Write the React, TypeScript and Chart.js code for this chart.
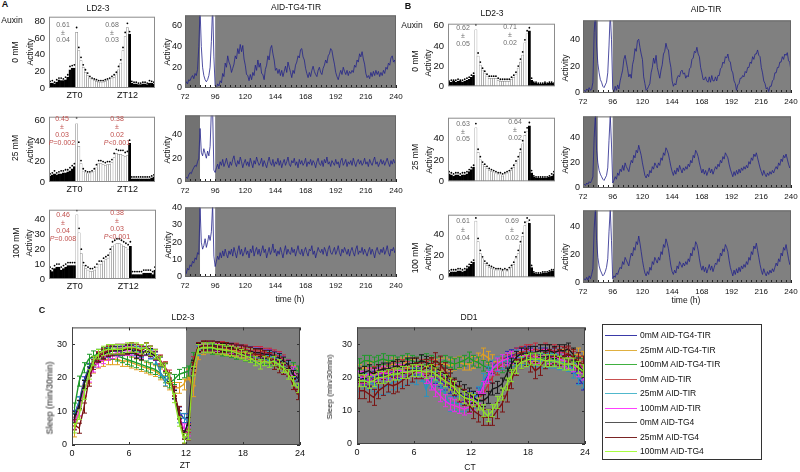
import React, { useEffect, useRef } from "react";
import { Chart, registerables } from "chart.js";

Chart.register(...registerables);

const FONT = "'Liberation Sans', Arial, Helvetica, sans-serif";

// ---------------- LD2-3 histograms: 48 half-hour bins, ZT-6 .. ZT18 ----------------
const barZT = Array.from({ length: 48 }, (_, i) => -6 + i * 0.5);
const barTickBins = [11, 35];
const barTickText = ["ZT0", "ZT12"];

const a0Bars = [6,6,5,7,10,9,9,10,13,22,24,24, 67,45,33,25,19,15,12,10,9,8,7,7, 7,8,9,10,11,13,16,22,30,45,62,73, 65,6,5,5,4,4,5,5,4,6,6,5];
const a0Sem  = [2,3,2,3,2,3,2,3,3,4,3,4, 6,4,4,3,3,3,2,2,2,2,2,2, 2,2,2,2,3,3,3,4,4,4,5,5, 3,2,2,2,2,2,2,2,2,3,2,2];
const a25Bars = [6,7,8,7,8,8,9,9,10,11,13,15, 57,35,18,10,9,8,8,9,10,14,18,18, 17,16,17,17,19,24,28,27,27,26,25,26, 38,3,3,3,3,3,3,3,3,3,4,5];
const a25Sem  = [2,2,3,2,2,3,2,3,2,3,3,3, 6,4,3,3,2,2,2,2,3,3,3,3, 3,3,3,3,3,4,4,4,4,5,4,4, 3,2,2,2,2,2,2,2,2,2,2,2];
const a100Bars = [6,5,7,8,8,6,7,8,9,9,9,9, 43,31,17,9,7,6,5,5,6,8,10,10, 12,13,14,18,22,23,24,24,23,22,21,20, 22,3,3,3,3,3,4,4,4,4,3,6];
const a100Sem  = [2,2,2,2,2,2,2,2,2,2,2,2, 3,3,3,2,2,2,2,2,2,2,2,2, 2,2,2,2,3,3,3,3,3,3,3,3, 3,2,2,2,2,2,2,2,2,2,2,2];
const b0Bars = [4,4,5,4,5,5,4,5,6,7,9,11, 56,30,21,16,13,10,8,8,8,8,6,5, 5,5,5,5,7,9,12,18,24,31,43,52, 55,6,3,3,2,2,2,3,2,3,3,2];
const b0Sem  = [1,2,1,2,2,1,2,2,2,2,2,2, 5,3,3,2,2,2,2,2,2,2,2,2, 2,2,2,2,2,2,2,2,3,3,3,3, 3,2,1,1,1,1,1,1,1,1,1,1];
const b25Bars = [7,6,5,6,6,5,6,6,7,9,11,13, 50,27,20,16,14,12,10,9,8,7,6,6, 5,6,7,8,10,13,17,20,27,35,43,47, 52,8,4,3,3,3,3,3,3,4,5,7];
const b25Sem  = [2,2,2,2,2,2,2,2,2,2,2,2, 4,3,3,2,2,2,2,2,2,2,2,2, 2,2,2,2,2,2,2,3,3,3,3,3, 3,2,1,1,1,1,1,1,1,1,2,2];
const b100Bars = [4,5,5,5,6,6,5,6,8,10,12,14, 52,33,22,17,13,11,9,8,7,6,6,6, 5,6,5,7,9,12,17,22,30,38,48,52, 50,9,4,3,3,3,4,4,4,5,6,6];
const b100Sem  = [2,2,2,2,2,2,2,2,2,2,2,2, 3,3,3,2,2,2,2,2,2,2,2,2, 2,2,2,2,2,2,2,3,3,3,3,3, 3,2,1,1,1,1,1,1,1,1,1,1];

const annA0 = [["0.61", "±", "0.04"], ["0.68", "±", "0.03"]];
const annA25 = [["0.45", "±", "0.03", "P=0.002"], ["0.38", "±", "0.02", "P<0.001"]];
const annA100 = [["0.46", "±", "0.04", "P=0.008"], ["0.38", "±", "0.03", "P<0.001"]];
const annB0 = [["0.62", "±", "0.05"], ["0.71", "±", "0.02"]];
const annB25 = [["0.63", "±", "0.05"], ["0.64", "±", "0.02"]];
const annB100 = [["0.61", "±", "0.04"], ["0.69", "±", "0.02"]];

// ---------------- Actograms: hourly activity, 72 h .. 240 h ----------------
const actHours = Array.from({ length: 169 }, (_, i) => 72 + i);
const actDark = [72, 84];
const actLight = [84, 96];
const actDD = [96, 240];

const actA0 = [
  3,6,4,8,7,10,12,9,14,12,18,40, 75,40,20,12,8,6,8,12,20,45,80,30,
  2,0,4,2,7,5,14,11,24,20,31,25, 22,15,19,23,31,28,38,33,42,35,41,28,
  22,13,12,7,13,8,15,12,22,17,27,20, 24,14,13,8,18,22,31,27,38,41,33,27,
  17,19,14,18,12,17,11,16,21,15,25,20, 15,10,17,14,22,25,31,29,37,38,30,27,
  19,14,10,15,11,17,21,16,13,11,17,20, 15,13,19,22,27,24,31,33,38,36,29,23,
  15,11,8,13,17,13,20,16,13,17,12,16, 14,17,15,22,20,27,25,33,30,35,28,23,
  14,10,12,9,15,11,16,12,17,13,16,11, 15,12,17,14,20,18,24,22,29,31,25,27,20];
const actA25 = [
  2,4,3,6,8,7,10,12,14,13,17,20, 45,25,22,28,24,20,26,22,30,60,60,10,
  8,12,15,11,17,14,19,13,16,20,15,12, 17,14,19,22,16,13,18,15,21,17,12,16,
  19,14,17,13,20,16,12,18,15,21,17,14, 16,20,13,18,15,12,17,21,16,14,19,13,
  17,15,20,14,18,12,16,19,14,17,21,15, 13,18,16,20,14,17,12,19,15,18,14,16,
  20,13,17,15,19,14,18,16,12,17,20,15, 14,18,13,19,16,21,15,17,13,18,16,14,
  19,15,17,12,18,20,14,16,19,13,17,15, 18,14,20,16,13,17,19,15,18,14,16,20,
  15,17,13,19,16,14,18,21,15,17,13,16, 19,15,18,14,17,20,16,13,18,15,19,16,17];
const actA100 = [
  3,2,5,4,7,6,9,8,11,10,14,13, 40,20,16,18,22,17,20,24,21,26,42,12,
  6,9,12,10,14,11,15,12,16,13,11,15, 13,16,12,17,14,11,15,18,13,16,12,14,
  17,13,15,11,16,14,18,12,15,17,13,16, 12,15,18,14,16,11,14,17,13,15,19,14,
  16,12,15,13,17,14,11,15,18,13,16,14, 13,17,14,16,12,15,18,14,13,16,12,15,
  17,14,12,16,15,18,13,15,11,14,17,15, 14,16,13,17,15,12,16,18,14,13,15,17,
  13,15,18,14,12,16,14,17,15,13,16,12, 15,17,14,12,16,18,13,15,14,17,13,16,
  14,12,15,17,13,16,14,11,15,17,14,13, 16,14,17,13,15,18,14,12,16,15,17,14,16];
const actB0 = [
  1,2,1,3,2,4,2,3,8,45,60,35, 22,15,10,8,5,4,6,8,15,35,60,40,
  3,1,5,2,6,3,9,13,17,25,28,23, 18,12,14,11,21,25,33,31,39,40,34,29,
  25,12,7,2,3,5,7,15,19,26,22,28, 19,15,11,17,21,29,31,37,33,32,24,19,
  9,5,7,6,11,13,12,16,17,14,15,11, 13,12,18,19,25,26,31,30,34,29,27,19,
  15,10,10,12,9,8,12,8,13,9,9,12, 9,13,13,18,19,23,22,27,26,29,24,23,
  17,15,9,7,2,6,7,11,11,13,12,16, 15,19,19,23,22,27,25,29,29,32,28,27,
  19,15,9,7,3,4,1,5,5,9,10,15, 15,19,19,23,23,27,25,29,28,30,24,23,16];
const actB25 = [
  2,3,2,4,3,5,4,6,9,40,58,30, 20,14,11,9,7,6,8,10,16,38,58,35,
  4,6,9,7,12,10,15,13,18,14,20,17, 15,13,18,22,20,26,24,30,28,34,30,26,
  20,15,10,8,11,9,14,12,17,15,20,18, 16,20,18,24,22,28,26,32,30,27,22,17,
  13,10,14,11,16,13,18,15,12,16,14,17, 15,19,17,22,20,26,24,30,28,25,20,16,
  12,15,11,14,10,13,16,12,15,11,14,17, 15,19,17,22,20,25,23,28,26,24,19,15,
  12,9,13,10,14,11,15,12,16,14,17,15, 18,16,21,19,24,22,27,25,28,24,20,16,
  13,10,14,11,9,12,10,13,11,14,12,15, 17,15,20,18,23,21,26,24,27,23,19,16,18];
const actB100 = [
  1,3,2,4,2,5,3,6,10,38,52,30, 18,12,9,7,5,6,8,11,17,36,52,30,
  3,5,4,7,6,9,11,10,15,13,18,16, 14,12,17,21,19,25,23,29,27,33,28,22,
  16,11,7,5,8,6,11,9,15,13,18,16, 14,18,16,22,20,27,25,31,28,24,18,12,
  8,6,9,7,12,10,15,13,11,14,12,15, 13,17,15,21,19,25,23,29,27,23,17,12,
  9,12,8,11,7,10,13,9,12,8,11,14, 13,17,15,21,19,24,22,27,25,22,16,11,
  8,5,9,6,10,7,11,8,12,10,13,11, 15,13,18,16,22,20,26,24,28,23,18,13,
  9,6,10,7,5,8,6,9,7,10,8,11, 14,12,17,15,21,19,25,23,27,22,17,13,15];

// ---------------- Panel C: sleep per 30 min ----------------
const sleepX = Array.from({ length: 48 }, (_, i) => 0.25 + i * 0.5);
const seriesNames = ["0mM AID-TG4-TIR", "25mM AID-TG4-TIR", "100mM AID-TG4-TIR", "0mM AID-TIR", "25mM AID-TIR", "100mM AID-TIR", "0mM AID-TG4", "25mM AID-TG4", "100mM AID-TG4"];
const seriesColors = ["#2626b8", "#e0a020", "#1f9a2a", "#c8283c", "#2a92c0", "#e82ee8", "#1a1a1a", "#7a1414", "#8ee02a"];
const legendColors = ["#3a3aa8", "#e0b040", "#40b040", "#c85050", "#50b8cc", "#ff40ff", "#555555", "#7a2424", "#a8ff40"];

const ldBlue = [9,13,19,23,25,26.5,27.5,28,28,28,28.5,28.5,28.5,28,27.5,28,27,26.5,25,23,20,15,10,8, 8,24,28.5,29.5,29.5,29.5,29.5,29,29,29,28.5,28.5,28,28,27.5,27.5,27,27,26.5,26,25,24,21,19];
const ldOrange = [4,10,16,20,23,24.5,25,25.5,25.5,25.5,25,25,24.5,24,23.5,23,22.5,22,21,19,18,17,17,18, 21,16,27,28.5,29,29,28.5,28.5,28.5,28,28,27.5,27.5,27,27,26.5,26.5,26,26,25.5,24.5,23.5,22,21];
const ldGreen = [11,19,23,25.5,26.5,27,27.5,27.5,27,26.5,26,25.5,25,24.5,24,23.5,23,22.5,21.5,20,18.5,19.5,21,21.5, 22,26,28.5,29,29,28.5,28.5,28,28,27.5,27,27,26.5,26.5,26,26,25.5,25.5,25,25,24.5,24,23,22];
const ldRed = [7,12,18,22,25,26.5,27.5,28,28,28.5,28.5,28.5,29,28.5,28,29,28,27,25.5,23.5,21,16,9,3, 5,25,29,29.5,29.5,29.5,29.5,29.5,29,29,29,28.5,28.5,28,28,28,27.5,27.5,27,26.5,25.5,24,21,18];
const ldTeal = [8,13,18,22,24.5,26,27,27.5,28,28,28,28.5,28.5,28,27.5,28,27,25.5,22,19,20,15,8,8, 7,22,28,29,29.5,29.5,29,29,29,28.5,28.5,28,28,27.5,27.5,27,27,26.5,26,25.5,25,23.5,21,18];
const ldMagenta = [6,10,16,20,23,24.5,25.5,26.5,27,27.5,28,28,28,27.5,27,28,27.5,26.5,25,23,20,15,9,5, 4,22,28.5,29,29.5,29.5,29,29,29,28.5,28.5,28,28,28,27.5,27.5,27,27,26.5,26,25,24,22,20];
const ldBlack = [8,12,18,22,25,26,27,27.5,28,28,28,28.5,28.5,27,26.5,28,27.5,26.5,25,23,20,15,9,3, 7,24,29,29.5,29.5,29.5,29.5,29,29,29,28.5,28.5,28,28,27.5,27.5,27,27,26.5,26,25,24,21,20];
const ldMaroon = [6,5,11,19,24,26,27,28,28,28.5,28.5,28.5,29,28.5,28,29,28,27,25,23,20,16,10,2, 3,23,29,29.5,29.5,29.5,29,29,29,28.5,28.5,28,28,27.5,27,27,26.5,26,24,23,22.5,22,18,15];
const ldLime = [5,9,15,21,25,27,28,28.5,28.5,28.5,28.5,29,29,29,28.5,29,28,27,25,23,20,14,7,2, 3,22,28.5,29,29,29,28.5,28.5,28,28,27.5,27,26.5,26,25,24,25,24.5,25,24,23,21,19,17];
const ldSem = [1.3, 1.6, 1.5, 1.3, 1.4, 1.3, 1.2, 1.5, 1.4];

const ddBlue = [20,19.5,19,20,21,20,21,22,21.5,22,22.5,22,22.5,22,21.5,21,20,19,18,17,16,15,14.5,14, 14,15,17,21,23,24.5,25,26,26.5,27,27,27.5,27,27.5,27,27,26.5,27,26.5,26,25,23,20,18];
const ddOrange = [22,23,22.5,23,22,23.5,23,24,23.5,24,24.5,23.5,24,23.5,23,24,23.5,24,24,23.5,24,24.5,24,24, 24.5,25.5,27,26,25,24.5,25,25.5,25.5,26,26,26.5,26,26.5,26,26.5,26,26,26.5,26.5,26,26.5,27,26];
const ddGreen = [24,25,25,24.5,25,25.5,25,25,24.5,25,25.5,25,24.5,25,25.5,25,24.5,24.5,25,24.5,24,24.5,25,26, 25,24.5,23.5,23,22.5,22.5,23,23.5,24,25,25.5,26,25.5,26,25.5,26,26,25.5,25.5,26,25,25,24.5,24];
const ddRed = [21,20,21,21.5,22,21,22,22.5,23,23.5,23,24,24,23.5,23,23.5,22,21,19.5,18,16.5,15,14,13.5, 13,13.5,15,17.5,20,22.5,24,25,26,27,27.5,28,28,28.5,28,28.5,28,28,27.5,27.5,27,26,24.5,23];
const ddTeal = [18,19,18.5,18,17,17,17.5,18.5,19,19.5,20,20.5,20,21,16.5,19,19.5,18,15,12,12.5,12,12,12.5, 13,15,19,21,23,24,24.5,25,25.5,26,26,26,25.5,25.5,25,25,25,25,24.5,24.5,24,22,20,19];
const ddMagenta = [20,20,21,20.5,21,21.5,21,21.5,22,22,21.5,22,21.5,21.5,20,18,16,14.5,13,12,11.5,11,10.5,11, 12,14,17,20,22.5,24,25,25.5,26,26,26.5,26.5,26.5,26,26,26.5,26,26,25.5,25,24.5,23.5,22,21];
const ddBlack = [21,21.5,22,21,22,22.5,22.5,23,23.5,23,24,24,24,25,24.5,24,23,22,21,19.5,18,17,16,15, 14,13,13,14,16.5,17,18,21,24,26,27,27,27.5,27.5,28,28,28,27.5,28,28,28.5,27,24,22];
const ddMaroon = [16,16,15,14,16,17,18,17.5,18,19,20,21,22,22,23,23.5,25,24,22,20,17,15,14,12, 10,9,8,8,8,10,12,15,19,23,25,26,24,22,23,25,26,26.5,26,26.5,27,26,25,24];
const ddLime = [19,19,18.5,19,20,20,20.5,21,21,21.5,21.5,22,22,22,21.5,22,21,20,19,18,17,15,14,13.5, 13,12,10,8.5,10,12.5,15,18,20.5,23,24.5,25,25.5,25.5,25.5,25,25,25,24.5,24,24,24,23,22];
const ddSem = [1.8, 1.8, 1.6, 1.8, 2.2, 1.8, 1.8, 2.4, 1.8];

const ldSeries = [ldBlue, ldOrange, ldGreen, ldRed, ldTeal, ldMagenta, ldBlack, ldMaroon, ldLime];
const ddSeries = [ddBlue, ddOrange, ddGreen, ddRed, ddTeal, ddMagenta, ddBlack, ddMaroon, ddLime];
const ldLightsOff = [12, 24];
const ddDark = [0, 24];

// ---------------- plugin ----------------
type Deco = {
  shade?: { from: number; to: number; color: string }[];
  frame?: string;
  xt?: { from: number; to: number; step: number; len: number; top?: boolean };
  yt?: { from: number; to: number; step: number; len: number; right?: boolean };
  tickColor?: string;
};

function deco(o: Deco) {
  return {
    id: "deco",
    beforeDatasetsDraw(chart: any) {
      const { ctx, chartArea: a } = chart;
      const xs = chart.scales.x;
      ctx.save();
      for (const s of o.shade || []) {
        const x0 = Math.max(a.left, xs.getPixelForValue(s.from));
        const x1 = Math.min(a.right, xs.getPixelForValue(s.to));
        ctx.fillStyle = s.color;
        ctx.fillRect(x0, a.top, x1 - x0, a.bottom - a.top);
      }
      ctx.restore();
    },
    afterDatasetDraw(chart: any, args: any) {
      const ds = chart.data.datasets[args.index];
      if (ds.errs == null) return;
      const { ctx, chartArea: a } = chart;
      const ys = chart.scales.y;
      ctx.save();
      ctx.beginPath();
      ctx.rect(a.left, a.top, a.width, a.height);
      ctx.clip();
      ctx.strokeStyle = ds.borderColor;
      ctx.lineWidth = 1;
      ctx.beginPath();
      args.meta.data.forEach((pt: any, j: number) => {
        const v = ds.data[j].y;
        const t = ys.getPixelForValue(v + ds.errs);
        const b = ys.getPixelForValue(v - ds.errs);
        const x = Math.round(pt.x) + 0.5;
        ctx.moveTo(x, t); ctx.lineTo(x, b);
        ctx.moveTo(x - 2.5, t); ctx.lineTo(x + 2.5, t);
        ctx.moveTo(x - 2.5, b); ctx.lineTo(x + 2.5, b);
      });
      ctx.stroke();
      ctx.restore();
    },
    afterDatasetsDraw(chart: any) {
      const { ctx, chartArea: a } = chart;
      const xs = chart.scales.x, ys = chart.scales.y;
      ctx.save();
      ctx.strokeStyle = o.tickColor || "#222";
      ctx.lineWidth = 1;
      ctx.beginPath();
      if (o.xt) {
        for (let v = o.xt.from; v <= o.xt.to + 1e-9; v += o.xt.step) {
          const x = Math.round(xs.getPixelForValue(v)) + 0.5;
          ctx.moveTo(x, a.bottom); ctx.lineTo(x, a.bottom - o.xt.len);
          if (o.xt.top) { ctx.moveTo(x, a.top); ctx.lineTo(x, a.top + o.xt.len); }
        }
      }
      if (o.yt) {
        for (let v = o.yt.from; v <= o.yt.to + 1e-9; v += o.yt.step) {
          const y = Math.round(ys.getPixelForValue(v)) + 0.5;
          ctx.moveTo(a.left, y); ctx.lineTo(a.left + o.yt.len, y);
          if (o.yt.right) { ctx.moveTo(a.right, y); ctx.lineTo(a.right - o.yt.len, y); }
        }
      }
      ctx.stroke();
      if (o.frame) {
        ctx.strokeStyle = o.frame;
        ctx.strokeRect(a.left + 0.5, a.top + 0.5, a.width - 1, a.height - 1);
      }
      ctx.restore();
    },
  };
}

const tickFont = (size: number) => ({ family: FONT, size });

// ---------------- chart factories ----------------
function barCfg(vals: number[], sem: number[], ymax: number, step: number, showZT: boolean) {
  const light = barZT.map((z) => z >= 0 && z < 12);
  return {
    type: "bar",
    data: {
      labels: barZT,
      datasets: [
        { type: "line", data: vals.map((v, i) => v + sem[i]), showLine: false, pointRadius: 0.9, pointBackgroundColor: "#000", pointBorderWidth: 0, order: 0 },
        { type: "bar", data: vals, backgroundColor: light.map((l) => (l ? "#ffffff" : "#000000")), borderColor: light.map((l) => (l ? "#7a7a7a" : "#000000")), borderWidth: 0.5, barPercentage: 1, categoryPercentage: 1, order: 1 },
      ],
    },
    options: {
      scales: {
        x: { grid: { display: false, drawTicks: false }, border: { display: false }, ticks: { autoSkip: false, maxRotation: 0, padding: 2, font: tickFont(9), color: "#111", callback: (_v: any, i: number) => (showZT ? barTickText[barTickBins.indexOf(i)] ?? "" : "") } },
        y: { min: 0, max: ymax, grid: { display: false, drawTicks: false }, border: { display: false }, ticks: { stepSize: step, includeBounds: false, padding: 4, font: tickFont(9.5), color: "#111" } },
      },
    },
    plugins: [deco({ frame: "#8c8c8c" })],
  };
}

function actCfg(vals: number[], ymax: number, step: number) {
  return {
    type: "line",
    data: {
      datasets: [{ data: actHours.map((h, i) => ({ x: h, y: vals[i] })), borderColor: "#23238a", borderWidth: 0.8, pointRadius: 0, tension: 0 }],
    },
    options: {
      scales: {
        x: { type: "linear", min: actHours[0], max: actHours[actHours.length - 1], grid: { display: false, drawTicks: false }, border: { display: false }, ticks: { stepSize: 24, padding: 4, maxRotation: 0, font: tickFont(8), color: "#111" } },
        y: { min: 0, max: ymax, grid: { display: false, drawTicks: false }, border: { display: false }, ticks: { stepSize: step, includeBounds: false, padding: 3, font: tickFont(9), color: "#111" } },
      },
    },
    plugins: [deco({
      shade: [
        { from: actDark[0], to: actDark[1], color: "#727272" },
        { from: actLight[0], to: actLight[1], color: "#ffffff" },
        { from: actDD[0], to: actDD[1], color: "#808080" },
      ],
      xt: { from: 72, to: 240, step: 4, len: 3 },
      frame: "#666",
    })],
  };
}

function sleepCfg(series: number[][], sem: number[], shade: number[]) {
  return {
    type: "line",
    data: {
      datasets: series.map((s, k) => ({
        data: sleepX.map((x, i) => ({ x, y: s[i] })),
        borderColor: seriesColors[k],
        borderWidth: 1.4,
        pointRadius: 0,
        tension: 0,
        errs: sem[k],
        order: series.length - 1 - k,
      })),
    },
    options: {
      scales: {
        x: { type: "linear", min: 0, max: 24, grid: { display: false, drawTicks: false }, border: { display: false }, ticks: { stepSize: 6, padding: 3, maxRotation: 0, font: tickFont(9), color: "#111" } },
        y: { min: 0, max: 35, grid: { display: false, drawTicks: false }, border: { display: false }, ticks: { stepSize: 10, includeBounds: false, padding: 5, font: tickFont(9), color: "#111" } },
      },
    },
    plugins: [deco({
      shade: [{ from: shade[0], to: shade[1], color: "#808080" }],
      xt: { from: 0, to: 24, step: 6, len: 3, top: true },
      yt: { from: 0, to: 30, step: 10, len: 3, right: true },
      frame: "#444",
      tickColor: "#333",
    })],
  };
}

// ---------------- components ----------------
function ChartCanvas({ p, L, B, cfg }: { p: number[]; L: number; B: number; cfg: () => any }) {
  const ref = useRef<HTMLCanvasElement>(null);
  const T = 8, R = 12;
  const W = p[2] + L + R, H = p[3] + T + B;
  useEffect(() => {
    const c = cfg();
    c.options.responsive = false;
    c.options.maintainAspectRatio = false;
    c.options.animation = false;
    c.options.events = [];
    c.options.layout = { padding: { top: T, right: R, left: 0, bottom: 0 } };
    c.options.plugins = { legend: { display: false }, tooltip: { enabled: false } };
    c.options.scales.x.afterFit = (s: any) => { s.height = B; };
    c.options.scales.y.afterFit = (s: any) => { s.width = L; };
    const ch = new Chart(ref.current as HTMLCanvasElement, c);
    return () => ch.destroy();
  }, []);
  return <canvas ref={ref} width={W} height={H} style={{ position: "absolute", left: p[0] - L, top: p[1] - T, width: W, height: H, display: "block" }} />;
}

function Txt({ x, y, s = 8.5, c = "#111", rot = false, b = false, children }: { x: number; y: number; s?: number; c?: string; rot?: boolean; b?: boolean; children: any }) {
  return (
    <div style={{ position: "absolute", left: x, top: y, fontSize: s, color: c, fontFamily: FONT, fontWeight: b ? "bold" : "normal", whiteSpace: "nowrap", lineHeight: 1, transform: `translate(-50%,-50%)${rot ? " rotate(-90deg)" : ""}` }}>
      {children}
    </div>
  );
}

function Ann({ x, y, lines, color, dy }: { x: number; y: number; lines: string[]; color: string; dy: number }) {
  return (
    <>
      {lines.map((t, i) => (
        <Txt key={i} x={x} y={y + i * dy} s={7} c={color}>
          {t.startsWith("P") ? (<><i>P</i>{t.slice(1)}</>) : t}
        </Txt>
      ))}
    </>
  );
}

export default function App() {
  const gray = "#6e6e6e";
  const rose = "#c0504d";
  return (
    <div style={{ position: "absolute", left: 0, top: 0, width: 800, height: 472, background: "#fff", overflow: "hidden" }}>
      {/* Panel A bars */}
      <ChartCanvas p={[49, 15, 106, 73]} L={30} B={14} cfg={() => barCfg(a0Bars, a0Sem, 86, 20, true)} />
      <ChartCanvas p={[49, 115, 106, 67]} L={30} B={14} cfg={() => barCfg(a25Bars, a25Sem, 64, 20, true)} />
      <ChartCanvas p={[49, 208, 107, 71]} L={30} B={14} cfg={() => barCfg(a100Bars, a100Sem, 46.5, 10, true)} />
      {/* Panel A actograms */}
      <ChartCanvas p={[185, 15, 211, 73]} L={26} B={14} cfg={() => actCfg(actA0, 70, 20)} />
      <ChartCanvas p={[185, 115, 211, 67]} L={26} B={14} cfg={() => actCfg(actA25, 56, 20)} />
      <ChartCanvas p={[185, 207, 211, 70]} L={26} B={14} cfg={() => actCfg(actA100, 40, 10)} />
      {/* Panel B bars */}
      <ChartCanvas p={[448, 22, 107, 70]} L={26} B={4} cfg={() => barCfg(b0Bars, b0Sem, 62, 20, false)} />
      <ChartCanvas p={[448, 116, 107, 71]} L={26} B={4} cfg={() => barCfg(b25Bars, b25Sem, 59.5, 20, false)} />
      <ChartCanvas p={[448, 213, 107, 70]} L={26} B={4} cfg={() => barCfg(b100Bars, b100Sem, 58, 20, false)} />
      {/* Panel B actograms */}
      <ChartCanvas p={[583, 20, 208, 73]} L={26} B={14} cfg={() => actCfg(actB0, 54, 20)} />
      <ChartCanvas p={[583, 116, 208, 72]} L={26} B={14} cfg={() => actCfg(actB25, 57, 20)} />
      <ChartCanvas p={[583, 210, 208, 73]} L={26} B={14} cfg={() => actCfg(actB100, 51, 20)} />
      {/* Panel C */}
      <ChartCanvas p={[72, 325, 228, 120]} L={26} B={16} cfg={() => sleepCfg(ldSeries, ldSem, ldLightsOff)} />
      <ChartCanvas p={[357, 325, 228, 119]} L={26} B={16} cfg={() => sleepCfg(ddSeries, ddSem, ddDark)} />

      {/* Labels panel A */}
      <Txt x={5} y={4} s={9} b>A</Txt>
      <Txt x={12} y={20} s={8.5}>Auxin</Txt>
      <Txt x={98} y={8} s={8.5}>LD2-3</Txt>
      <Txt x={296} y={7} s={8.5}>AID-TG4-TIR</Txt>
      <Txt x={15} y={52} s={8.5} rot>0 mM</Txt>
      <Txt x={15} y={148} s={8.5} rot>25 mM</Txt>
      <Txt x={16} y={243} s={8.5} rot>100 mM</Txt>
      <Txt x={30} y={52} s={8.5} rot>Activity</Txt>
      <Txt x={30} y={150} s={8.5} rot>Activity</Txt>
      <Txt x={29} y={243} s={8.5} rot>Activity</Txt>
      <Txt x={167} y={52} s={8.5} rot>Activity</Txt>
      <Txt x={167} y={150} s={8.5} rot>Activity</Txt>
      <Txt x={168} y={245} s={8.5} rot>Activity</Txt>
      <Txt x={290} y={299} s={8.5}>time (h)</Txt>
      <Ann x={63} y={24} lines={annA0[0]} color={gray} dy={7.5} />
      <Ann x={112} y={24} lines={annA0[1]} color={gray} dy={7.5} />
      <Ann x={62} y={118} lines={annA25[0]} color={rose} dy={8} />
      <Ann x={117} y={118} lines={annA25[1]} color={rose} dy={8} />
      <Ann x={63} y={214} lines={annA100[0]} color={rose} dy={8} />
      <Ann x={117} y={212} lines={annA100[1]} color={rose} dy={8} />

      {/* Labels panel B */}
      <Txt x={408} y={6} s={9} b>B</Txt>
      <Txt x={412} y={25} s={8.5}>Auxin</Txt>
      <Txt x={492} y={13} s={8.5}>LD2-3</Txt>
      <Txt x={706} y={9} s={8.5}>AID-TIR</Txt>
      <Txt x={415} y={61} s={8.5} rot>0 mM</Txt>
      <Txt x={415} y={157} s={8.5} rot>25 mM</Txt>
      <Txt x={415} y={258} s={8.5} rot>100 mM</Txt>
      <Txt x={428} y={63} s={8.5} rot>Activity</Txt>
      <Txt x={429} y={160} s={8.5} rot>Activity</Txt>
      <Txt x={428} y={257} s={8.5} rot>Activity</Txt>
      <Txt x={565} y={68} s={8.5} rot>Activity</Txt>
      <Txt x={565} y={160} s={8.5} rot>Activity</Txt>
      <Txt x={565} y={257} s={8.5} rot>Activity</Txt>
      <Txt x={686} y={300} s={8.5}>time (h)</Txt>
      <Ann x={463} y={27} lines={annB0[0]} color={gray} dy={8} />
      <Ann x={510} y={26} lines={annB0[1]} color={gray} dy={8} />
      <Ann x={463} y={123} lines={annB25[0]} color={gray} dy={7.5} />
      <Ann x={515} y={121} lines={annB25[1]} color={gray} dy={8} />
      <Ann x={463} y={220} lines={annB100[0]} color={gray} dy={8.5} />
      <Ann x={512} y={220} lines={annB100[1]} color={gray} dy={8.5} />

      {/* Labels panel C */}
      <Txt x={42} y={310} s={9} b>C</Txt>
      <Txt x={183} y={317} s={8.5}>LD2-3</Txt>
      <Txt x={469} y={317} s={8.5}>DD1</Txt>
      <Txt x={185} y={465} s={8.5}>ZT</Txt>
      <Txt x={470} y={467} s={8.5}>CT</Txt>
      <Txt x={50} y={398} s={9} rot>Sleep (min/30min)</Txt>
      <Txt x={330} y={387} s={8} rot>Sleep (min/30min)</Txt>

      {/* Legend */}
      <div style={{ position: "absolute", left: 602, top: 324, width: 160, height: 136, border: "1px solid #333", boxSizing: "border-box", background: "#fff" }} />
      {seriesNames.map((n, i) => (
        <React.Fragment key={n}>
          <div style={{ position: "absolute", left: 605, top: 335 + i * 14.5, width: 32, height: 1, background: legendColors[i] }} />
          <div style={{ position: "absolute", left: 640, top: 335 + i * 14.5, transform: "translateY(-50%)", fontFamily: FONT, fontSize: 8.5, lineHeight: 1, color: "#111", whiteSpace: "nowrap" }}>{n}</div>
        </React.Fragment>
      ))}
    </div>
  );
}
